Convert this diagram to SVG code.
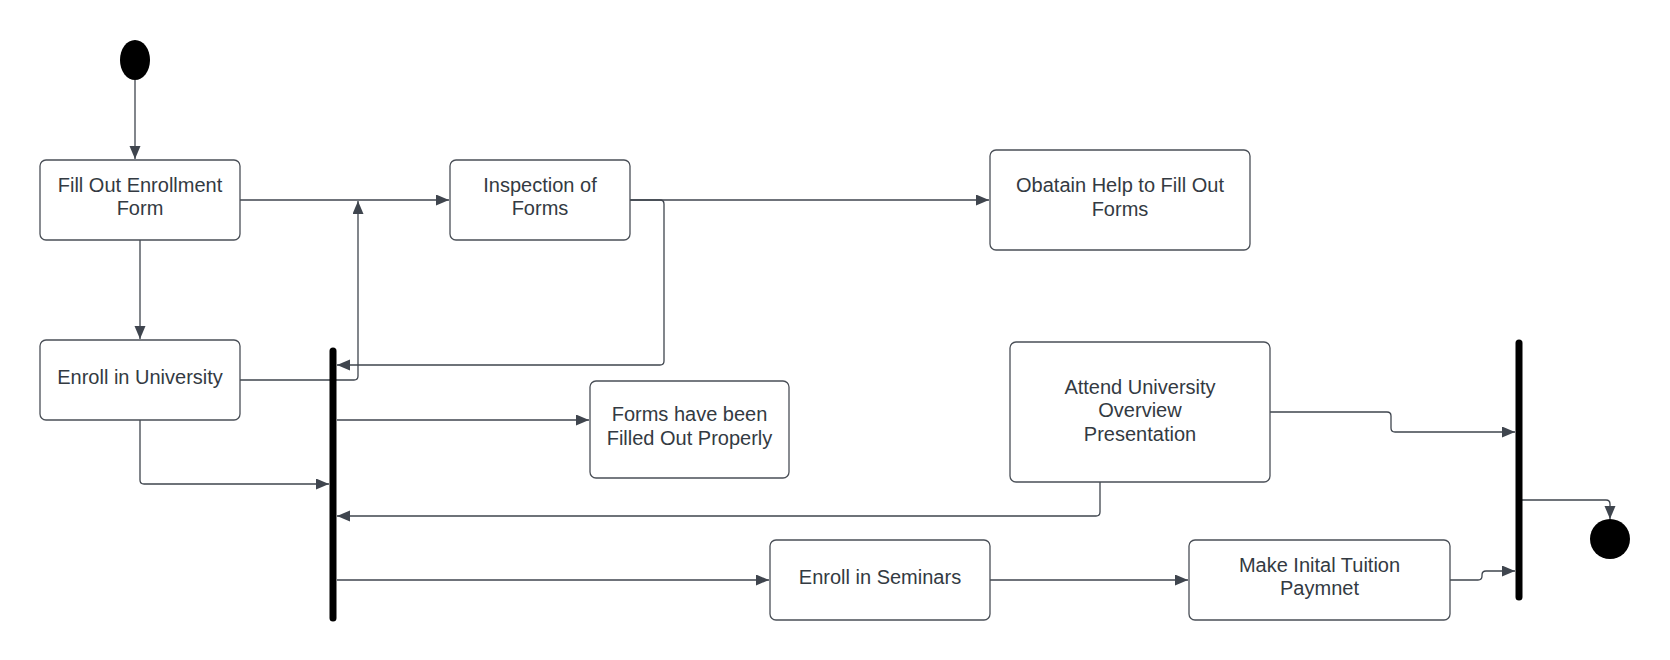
<svg xmlns="http://www.w3.org/2000/svg" width="1670" height="660" viewBox="0 0 1670 660">
<style>
.box{fill:#fff;stroke:#4a4f57;stroke-width:1.3}
.lbl{font-family:"Liberation Sans",Arial,sans-serif;font-size:20px;fill:#333a42;text-anchor:middle}
.con{fill:none;stroke:#3f454e;stroke-width:1.3}
.bar{stroke:#000;stroke-width:7;stroke-linecap:round}
</style>
<defs>
<marker id="ah" markerUnits="userSpaceOnUse" markerWidth="14" markerHeight="12" refX="13" refY="5.5" orient="auto">
<path d="M0,0 L13,5.5 L0,11 z" fill="#3f454e"/>
</marker>
</defs>
<rect width="1670" height="660" fill="#fff"/>
<g id="connectors">
<path class="con" d="M135,80 V159" marker-end="url(#ah)"/>
<path class="con" d="M140,240 V339" marker-end="url(#ah)"/>
<path class="con" d="M240,200 H449" marker-end="url(#ah)"/>
<path class="con" d="M240,380 H354 Q358,380 358,376 V201" marker-end="url(#ah)"/>
<path class="con" d="M630,200 H989" marker-end="url(#ah)"/>
<path class="con" d="M630,200 H660 Q664,200 664,204 V361 Q664,365 660,365 H337" marker-end="url(#ah)"/>
<path class="con" d="M140,420 V480 Q140,484 144,484 H329" marker-end="url(#ah)"/>
<path class="con" d="M337,420 H589" marker-end="url(#ah)"/>
<path class="con" d="M1100,482 V512 Q1100,516 1096,516 H337" marker-end="url(#ah)"/>
<path class="con" d="M337,580 H769" marker-end="url(#ah)"/>
<path class="con" d="M990,580 H1188" marker-end="url(#ah)"/>
<path class="con" d="M1270,412 H1387 Q1391,412 1391,416 V428 Q1391,432 1395,432 H1515" marker-end="url(#ah)"/>
<path class="con" d="M1450,580 H1478 Q1482,580 1482,576 V575 Q1482,571 1486,571 H1515" marker-end="url(#ah)"/>
<path class="con" d="M1522,500 H1606 Q1610,500 1610,504 V519" marker-end="url(#ah)"/>
</g>
<g id="start"><ellipse cx="135" cy="60" rx="15" ry="20" fill="#000"/></g>
<g id="fill-out"><rect class="box" x="40" y="160" width="200" height="80" rx="6"/><text class="lbl" x="140" y="192">Fill Out Enrollment</text><text class="lbl" x="140" y="215">Form</text></g>
<g id="inspection"><rect class="box" x="450" y="160" width="180" height="80" rx="6"/><text class="lbl" x="540" y="192">Inspection of</text><text class="lbl" x="540" y="215">Forms</text></g>
<g id="obtain-help"><rect class="box" x="990" y="150" width="260" height="100" rx="6"/><text class="lbl" x="1120" y="192">Obatain Help to Fill Out</text><text class="lbl" x="1120" y="216">Forms</text></g>
<g id="enroll-university"><rect class="box" x="40" y="340" width="200" height="80" rx="6"/><text class="lbl" x="140" y="384">Enroll in University</text></g>
<g id="fork1"><line class="bar" x1="333" y1="351" x2="333" y2="618"/></g>
<g id="forms-filled"><rect class="box" x="590" y="381" width="199" height="97" rx="6"/><text class="lbl" x="689.5" y="421">Forms have been</text><text class="lbl" x="689.5" y="445">Filled Out Properly</text></g>
<g id="attend"><rect class="box" x="1010" y="342" width="260" height="140" rx="6"/><text class="lbl" x="1140" y="394">Attend University</text><text class="lbl" x="1140" y="417">Overview</text><text class="lbl" x="1140" y="441">Presentation</text></g>
<g id="seminars"><rect class="box" x="770" y="540" width="220" height="80" rx="6"/><text class="lbl" x="880" y="584">Enroll in Seminars</text></g>
<g id="tuition"><rect class="box" x="1189" y="540" width="261" height="80" rx="6"/><text class="lbl" x="1319.5" y="572">Make Inital Tuition</text><text class="lbl" x="1319.5" y="595">Paymnet</text></g>
<g id="join"><line class="bar" x1="1519" y1="343" x2="1519" y2="597"/></g>
<g id="end"><ellipse cx="1610" cy="539" rx="20" ry="20" fill="#000"/></g>
</svg>
